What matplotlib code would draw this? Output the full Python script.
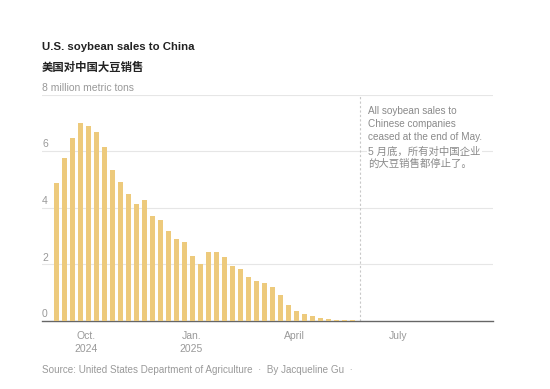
import matplotlib
matplotlib.use("Agg")
import matplotlib.pyplot as plt
import matplotlib.dates as mdates
import numpy as np
import pandas as pd

# weekly U.S. soybean sales to China, million metric tons
week_start = "2024-09-05"
sales = [4.89, 5.77, 6.47, 7.01, 6.90, 6.67, 6.15, 5.34, 4.91, 4.48,
         4.15, 4.29, 3.70, 3.57, 3.18, 2.90, 2.78, 2.30, 2.01, 2.43,
         2.43, 2.27, 1.94, 1.83, 1.54, 1.41, 1.33, 1.19, 0.93, 0.57,
         0.36, 0.25, 0.18, 0.11, 0.06, 0.05, 0.05, 0.05]
weeks = pd.date_range(week_start, periods=len(sales), freq="7D")

tick_dates = ["2024-10-01", "2025-01-01", "2025-04-01", "2025-07-01"]
tick_labels = ["Oct.\n2024", "Jan.\n2025", "April", "July"]
y_ticks = [0, 2, 4, 6]
cutoff = "2025-05-29"

title_en = "U.S. soybean sales to China"
title_zh = "美国对中国大豆销售"
note_en = "All soybean sales to\nChinese companies\nceased at the end of May."
note_zh = "5 月底，所有对中国企业\n的大豆销售都停止了。"
source = "Source: United States Department of Agriculture  ·  By Jacqueline Gu  ·"

plt.rcParams['font.family'] = ['Liberation Sans', 'Noto Sans CJK SC', 'DejaVu Sans']

BAR = '#edca7c'
GRAY = '#999999'

fig = plt.figure(figsize=(5.5, 3.89), dpi=100)
ax = fig.add_axes([0.0764, 0.1748, 0.8196, 0.5822])

ax.bar(weeks, sales, width=4.4, color=BAR, zorder=3)

ax.set_ylim(0, 8)
ax.set_xlim(pd.Timestamp("2024-08-23"), pd.Timestamp("2025-09-22"))

for v in [2, 4, 6, 8]:
    ax.axhline(v, color='#e6e6e6', lw=0.8, zorder=1)
ax.axhline(0, color='#666666', lw=1.0, zorder=2, clip_on=False)

# y labels sit on top of gridlines
for v in y_ticks:
    ax.text(0, v + 0.06, str(v), transform=ax.get_yaxis_transform(),
            ha='left', va='bottom', fontsize=7.5, color=GRAY)
ax.text(0, 8 + 0.06, "8 million metric tons", transform=ax.get_yaxis_transform(),
        ha='left', va='bottom', fontsize=7.5, color=GRAY)

ax.axvline(pd.Timestamp(cutoff), color='#c8c8c8', lw=0.8,
           linestyle=(0, (2, 2)), zorder=1)

ax.text(0.723, 0.948, note_en, transform=ax.transAxes, ha='left', va='top',
        fontsize=7.2, color='#8a8a8a', linespacing=1.35, zorder=4)
ax.text(0.723, 0.77, note_zh, transform=ax.transAxes, ha='left', va='top',
        fontsize=7.5, color='#8a8a8a', linespacing=1.2, zorder=4,
        bbox=dict(facecolor='white', edgecolor='none', pad=1))

ax.set_yticks([])
ax.set_xticks([mdates.date2num(pd.Timestamp(d)) for d in tick_dates])
ax.set_xticklabels(tick_labels, fontsize=7.5, color=GRAY, linespacing=1.35)
ax.tick_params(axis='x', length=0, pad=7)
for s in ax.spines.values():
    s.set_visible(False)

fig.text(0.0764, 0.879, title_en, fontsize=8.2, fontweight='bold',
         color='#222222', va='center', ha='left')
fig.text(0.0764, 0.828, title_zh, fontsize=8.2, fontweight='bold',
         color='#222222', va='center', ha='left')
fig.text(0.0764, 0.049, source, fontsize=7.1, color=GRAY, va='center', ha='left')

fig.savefig("out.png", dpi=100, facecolor='white')
